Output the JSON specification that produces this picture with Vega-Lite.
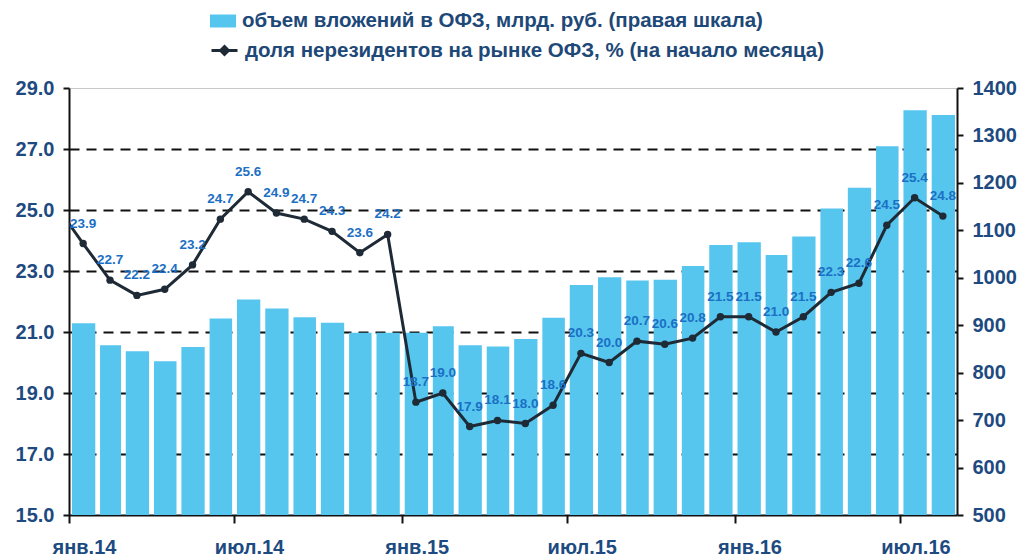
{
  "$schema": "https://vega.github.io/schema/vega-lite/v6.json",
  "width": 888,
  "height": 427,
  "autosize": {"type": "none"},
  "padding": {"left": 69, "top": 88, "right": 70, "bottom": 43},
  "background": "white",
  "config": {"view": {"stroke": null}, "font": "Liberation Sans"},
  "datasets": {
    "bars": [
      {"month": "2014-01-01", "volume": 904}, {"month": "2014-02-01", "volume": 858}, {"month": "2014-03-01", "volume": 845},
      {"month": "2014-04-01", "volume": 824}, {"month": "2014-05-01", "volume": 854}, {"month": "2014-06-01", "volume": 914},
      {"month": "2014-07-01", "volume": 954}, {"month": "2014-08-01", "volume": 935}, {"month": "2014-09-01", "volume": 917},
      {"month": "2014-10-01", "volume": 905}, {"month": "2014-11-01", "volume": 884}, {"month": "2014-12-01", "volume": 884},
      {"month": "2015-01-01", "volume": 884}, {"month": "2015-02-01", "volume": 898}, {"month": "2015-03-01", "volume": 858},
      {"month": "2015-04-01", "volume": 855}, {"month": "2015-05-01", "volume": 871}, {"month": "2015-06-01", "volume": 916},
      {"month": "2015-07-01", "volume": 985}, {"month": "2015-08-01", "volume": 1001}, {"month": "2015-09-01", "volume": 994},
      {"month": "2015-10-01", "volume": 996}, {"month": "2015-11-01", "volume": 1025}, {"month": "2015-12-01", "volume": 1069},
      {"month": "2016-01-01", "volume": 1075}, {"month": "2016-02-01", "volume": 1048}, {"month": "2016-03-01", "volume": 1087},
      {"month": "2016-04-01", "volume": 1146}, {"month": "2016-05-01", "volume": 1190}, {"month": "2016-06-01", "volume": 1277},
      {"month": "2016-07-01", "volume": 1353}, {"month": "2016-08-01", "volume": 1343}
    ],
    "share": [
      {"month": "2013-12-01", "share": 25.2},
      {"month": "2014-01-01", "share": 23.9}, {"month": "2014-02-01", "share": 22.7}, {"month": "2014-03-01", "share": 22.2},
      {"month": "2014-04-01", "share": 22.4}, {"month": "2014-05-01", "share": 23.2}, {"month": "2014-06-01", "share": 24.7},
      {"month": "2014-07-01", "share": 25.6}, {"month": "2014-08-01", "share": 24.9}, {"month": "2014-09-01", "share": 24.7},
      {"month": "2014-10-01", "share": 24.3}, {"month": "2014-11-01", "share": 23.6}, {"month": "2014-12-01", "share": 24.2},
      {"month": "2015-01-01", "share": 18.7}, {"month": "2015-02-01", "share": 19.0}, {"month": "2015-03-01", "share": 17.9},
      {"month": "2015-04-01", "share": 18.1}, {"month": "2015-05-01", "share": 18.0}, {"month": "2015-06-01", "share": 18.6},
      {"month": "2015-07-01", "share": 20.3}, {"month": "2015-08-01", "share": 20.0}, {"month": "2015-09-01", "share": 20.7},
      {"month": "2015-10-01", "share": 20.6}, {"month": "2015-11-01", "share": 20.8}, {"month": "2015-12-01", "share": 21.5},
      {"month": "2016-01-01", "share": 21.5}, {"month": "2016-02-01", "share": 21.0}, {"month": "2016-03-01", "share": 21.5},
      {"month": "2016-04-01", "share": 22.3}, {"month": "2016-05-01", "share": 22.6}, {"month": "2016-06-01", "share": 24.5},
      {"month": "2016-07-01", "share": 25.4}, {"month": "2016-08-01", "share": 24.8}
    ]
  },
  "layer": [
    {
      "data": {"name": "bars"},
      "mark": {"type": "bar", "clip": true, "width": {"band": 0.86}},
      "encoding": {
        "x": {
          "field": "month", "type": "temporal", "timeUnit": "utcyearmonth",
          "scale": {"type": "utc", "nice": false, "domain": [{"year": 2014, "month": 1, "date": 1, "utc": true}, {"year": 2016, "month": 9, "date": 1, "utc": true}]},
          "axis": {
            "title": null, "grid": false,
            "values": [
              {"year": 2014, "month": 1, "date": 1, "utc": true}, {"year": 2014, "month": 7, "date": 1, "utc": true},
              {"year": 2015, "month": 1, "date": 1, "utc": true}, {"year": 2015, "month": 7, "date": 1, "utc": true},
              {"year": 2016, "month": 1, "date": 1, "utc": true}, {"year": 2016, "month": 7, "date": 1, "utc": true}
            ],
            "labelExpr": "(utcmonth(datum.value) == 0 ? 'янв.' : 'июл.') + utcFormat(datum.value, '%y')",
            "domainColor": "#111111", "domainWidth": 2, "tickColor": "#111111", "tickWidth": 2, "tickSize": 8,
            "labelFontSize": 20, "labelFontWeight": "bold", "labelColor": "#1d4a80", "labelPadding": 14,
            "labelOffset": 15, "labelAngle": 0, "labelFlush": false, "labelOverlap": false
          }
        },
        "y": {
          "field": "volume", "type": "quantitative",
          "scale": {"domain": [500, 1400], "nice": false, "zero": false},
          "axis": {
            "orient": "right", "title": null, "grid": false, "format": "d",
            "values": [500, 600, 700, 800, 900, 1000, 1100, 1200, 1300, 1400],
            "domainColor": "#111111", "domainWidth": 2, "tickColor": "#111111", "tickWidth": 2, "tickSize": 6,
            "labelFontSize": 20, "labelFontWeight": "bold", "labelColor": "#1d4a80", "labelPadding": 9
          }
        },
        "fill": {
          "datum": "объем вложений в ОФЗ, млрд. руб. (правая шкала)",
          "scale": {"range": ["#56c6ef"]},
          "legend": {
            "title": null, "orient": "none", "legendX": 141, "legendY": -80,
            "symbolType": "M-1,-0.5H1V0.5H-1Z", "symbolSize": 676, "symbolStrokeWidth": 0,
            "labelFontSize": 20.5, "labelFontWeight": "bold", "labelColor": "#1d4877", "labelLimit": 0, "labelOffset": 6
          }
        }
      }
    },
    {
      "data": {"name": "share"},
      "encoding": {
        "x": {"field": "month", "type": "temporal", "timeUnit": "utcyearmonth", "bandPosition": 0.5, "scale": {"type": "utc"}},
        "y": {
          "field": "share", "type": "quantitative",
          "scale": {"domain": [15, 29], "nice": false, "zero": false},
          "axis": {
            "orient": "left", "title": null,
            "values": [15, 17, 19, 21, 23, 25, 27, 29], "format": ".1f",
            "grid": true,
            "gridColor": {"condition": {"test": "datum.value == 29", "value": "#c8c8c8"}, "value": "#111111"},
            "gridWidth": {"condition": {"test": "datum.value == 29", "value": 1}, "value": 2},
            "gridDash": {"condition": {"test": "datum.value == 29", "value": []}, "value": [10, 7]},
            "gridOpacity": {"condition": {"test": "datum.value == 15", "value": 0}, "value": 1},
            "domainColor": "#111111", "domainWidth": 2, "tickColor": "#111111", "tickWidth": 2, "tickSize": 6,
            "labelFontSize": 20, "labelFontWeight": "bold", "labelColor": "#1d4a80", "labelPadding": 9
          }
        }
      },
      "layer": [
        {
          "mark": {"type": "line", "clip": true, "strokeWidth": 3},
          "encoding": {
            "stroke": {
              "datum": "доля нерезидентов на рынке ОФЗ, % (на начало месяца)",
              "scale": {"range": ["#1e2a36"]},
              "legend": {
                "title": null, "orient": "none", "legendX": 141, "legendY": -52,
                "symbolType": "M-1,0H1M0,-0.3L0.3,0L0,0.3L-0.3,0Z", "symbolSize": 676, "symbolStrokeWidth": 3,
                "labelFontSize": 20.5, "labelFontWeight": "bold", "labelColor": "#1d4877", "labelLimit": 0, "labelOffset": 6,
                "encode": {"symbols": {"update": {"fill": {"value": "#1e2a36"}}}}
              }
            }
          }
        },
        {
          "mark": {"type": "point", "clip": true, "filled": true, "size": 55, "color": "#1e2a36", "opacity": 1}
        },
        {
          "mark": {"type": "text", "clip": true, "dy": -20, "font": "Liberation Sans Narrow, Liberation Sans", "fontSize": 13.5, "fontWeight": "bold", "color": "#1b6fc4"},
          "encoding": {"text": {"field": "share", "type": "quantitative", "format": ".1f"}}
        }
      ]
    }
  ],
  "resolve": {"scale": {"y": "independent"}}
}
